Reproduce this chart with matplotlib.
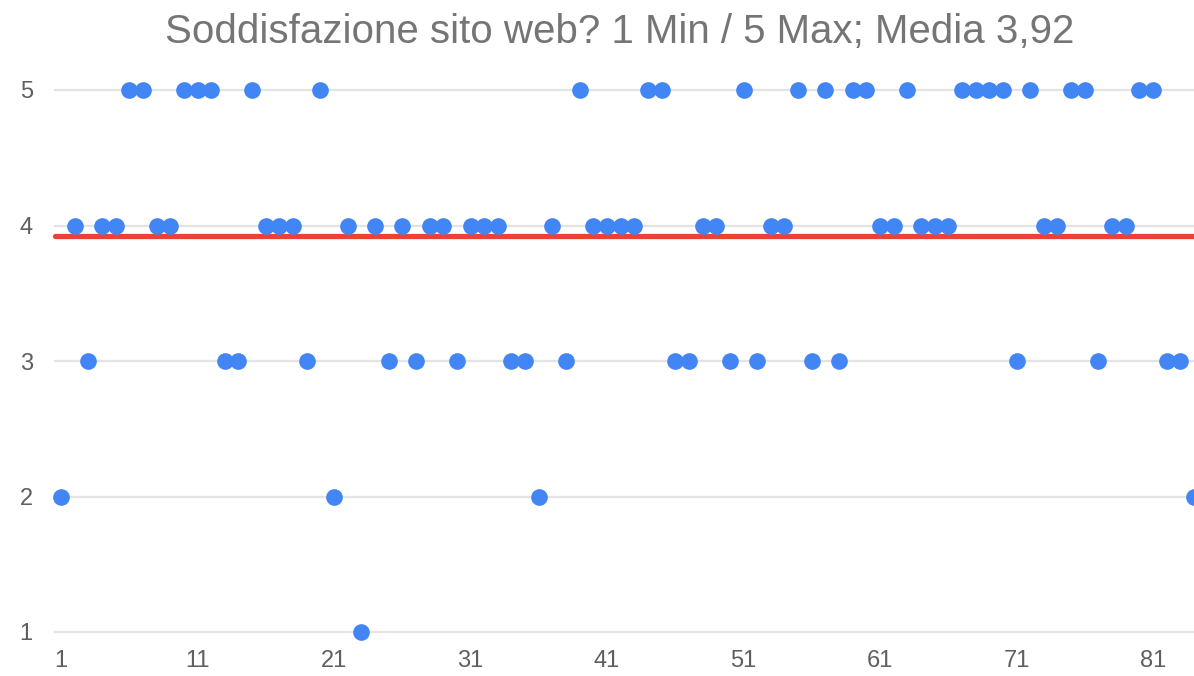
import matplotlib
matplotlib.use("Agg")
import matplotlib.pyplot as plt

# risposte (1 = min, 5 = max), una per rispondente
risposte = [2, 4, 3, 4, 4, 5, 5, 4, 4, 5,
            5, 5, 3, 3, 5, 4, 4, 4, 3, 5,
            2, 4, 1, 4, 3, 4, 3, 4, 4, 3,
            4, 4, 4, 3, 3, 2, 4, 3, 5, 4,
            4, 4, 4, 5, 5, 3, 3, 4, 4, 3,
            5, 3, 4, 4, 5, 3, 5, 3, 5, 5,
            4, 4, 5, 4, 4, 4, 5, 5, 5, 5,
            3, 5, 4, 4, 5, 5, 3, 4, 4, 5,
            5, 3, 3, 2]
rispondenti = list(range(1, len(risposte) + 1))
media = 3.92
x_ticks = [1, 11, 21, 31, 41, 51, 61, 71, 81]
y_ticks = [1, 2, 3, 4, 5]

BLUE = "#4285F4"
RED = "#EA4335"
GREY = "#5f5f5f"

plt.rcParams["font.family"] = ["Liberation Sans", "DejaVu Sans"]

fig = plt.figure(figsize=(11.94, 6.76), dpi=100)
ax = fig.add_axes([55 / 1194, 1 - 632 / 676, 1 - 55 / 1194, (632 - 90) / 676])

for y in y_ticks:
    ax.axhline(y, color="#e3e3e3", lw=1.6, zorder=1, clip_on=False)

ax.plot([rispondenti[0] - 0.45, rispondenti[-1] + 1], [media, media],
        color=RED, lw=3.8, solid_capstyle="round", zorder=2, clip_on=False)
ax.plot(rispondenti, risposte, "o", color=BLUE, ms=12, mew=0,
        zorder=3, clip_on=False)

ax.set_xlim(0.56, 84.0)
ax.set_ylim(1, 5)
ax.set_xticks(x_ticks)
ax.set_yticks(y_ticks)
ax.tick_params(length=0, labelsize=17, labelcolor=GREY)
ax.tick_params(axis="y", pad=16)
ax.tick_params(axis="x", pad=13)
for s in ax.spines.values():
    s.set_visible(False)

fig.text(0.519, 0.953, "Soddisfazione sito web? 1 Min / 5 Max; Media 3,92",
         ha="center", va="center", fontsize=29, color="#757575")

fig.savefig("out.png", dpi=100)
